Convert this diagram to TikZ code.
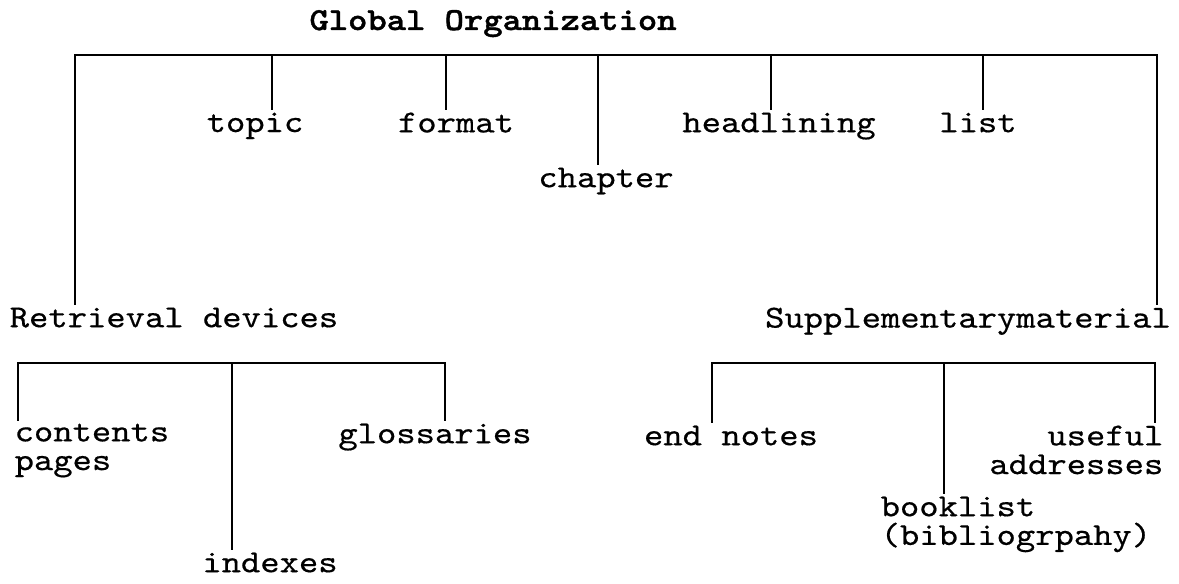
\documentclass[tikz,border=0pt]{standalone}
\usepackage{fontspec}
% serif typewriter face, widened to the pitch of the labels
\newfontfamily\lblfont{lmmono10-regular.otf}[FakeStretch=1.15, FakeBold=0.5]
\newfontfamily\ttlfont{lmmonolt10-bold.otf}[FakeStretch=1.15, FakeBold=1.2]
\begin{document}
\begin{tikzpicture}[x=0.75pt,y=-0.75pt,
  lbl/.style={font=\lblfont\fontsize{24}{21.5}\selectfont, inner sep=0pt, outer sep=2pt},
  ttl/.style={font=\ttlfont\fontsize{24}{21.5}\selectfont, inner sep=0pt},
  link/.style={line width=2.1pt, line join=miter}]
\useasboundingbox (0,0) rectangle (1179,584);

% title
\node[ttl, anchor=base] (root) at (493,30) {Global Organization};

% first level
\node[lbl, anchor=north] (topic)   at (255,110) {topic};
\node[lbl, anchor=north] (format)  at (456,110) {format};
\node[lbl, anchor=north] (chapter) at (606,165) {chapter};
\node[lbl, anchor=north] (head)    at (779,110) {headlining};
\node[lbl, anchor=north] (list)    at (978,110) {list};
\node[lbl, anchor=north] (retr)    at (174,305) {Retrieval devices};
\node[lbl, anchor=north] (supp)    at (968,305) {Supplementarymaterial};

% retrieval devices
\node[lbl, anchor=north west, align=left] (cont) at (12,421) {contents\\pages};
\node[lbl, anchor=north] (idx)   at (270,550) {indexes};
\node[lbl, anchor=north] (gloss) at (435,421) {glossaries};

% supplementary material
\node[lbl, anchor=north] (endn) at (731,423) {end notes};
\node[lbl, anchor=north west, align=left] (book) at (878,494) {booklist\\(bibliogrpahy)};
\node[lbl, anchor=north east, align=right] (addr) at (1166,423) {useful\\addresses};

% junctions on the top bar
\coordinate (tl) at (75,55);
\coordinate (tr) at (1157,55);
\coordinate (jtopic) at (272,55);
\coordinate (jformat) at (446,55);
\coordinate (jchap) at (598,55);
\coordinate (jhead) at (771,55);
\coordinate (jlist) at (983,55);

\draw[link] (tl |- retr.north) -- (tl) -- (tr) -- (tr |- supp.north);
\draw[link] (jtopic) -- (jtopic |- topic.north);
\draw[link] (jformat) -- (jformat |- format.north);
\draw[link] (jchap) -- (jchap |- chapter.north);
\draw[link] (jhead) -- (jhead |- head.north);
\draw[link] (jlist) -- (jlist |- list.north);

% junctions under Retrieval devices
\coordinate (rl) at (18,363);
\coordinate (rm) at (232,363);
\coordinate (rr) at (445,363);
\draw[link] (rl |- cont.north) -- (rl) -- (rr) -- (rr |- gloss.north);
\draw[link] (rm) -- (rm |- idx.north);

% junctions under Supplementarymaterial
\coordinate (sl) at (712,363);
\coordinate (sm) at (944,363);
\coordinate (sr) at (1155,363);
\draw[link] (sl |- endn.north) -- (sl) -- (sr) -- (sr |- addr.north);
\draw[link] (sm) -- (sm |- book.north);
\end{tikzpicture}
\end{document}
